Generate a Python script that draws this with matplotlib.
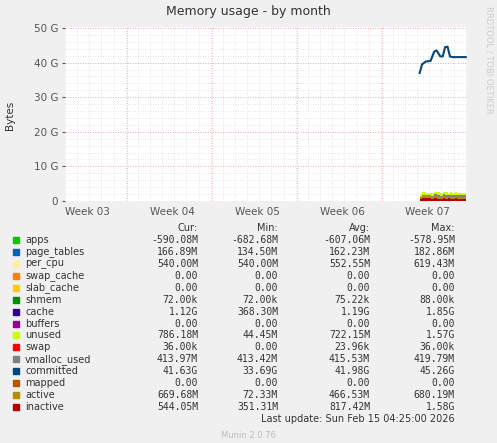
import matplotlib.pyplot as plt
import numpy as np

G = 1e9
names = ["apps", "page_tables", "per_cpu", "swap_cache", "slab_cache", "shmem", "cache",
         "buffers", "unused", "swap", "vmalloc_used", "committed", "mapped", "active", "inactive"]
colors = ["#00CC00", "#0066B3", "#FFEE99", "#FF8000", "#FFCC00", "#008F00", "#330099",
          "#990099", "#CCFF00", "#FF0000", "#808080", "#00487D", "#B35A00", "#B38F00", "#B30000"]
cur = ["-590.08M", "166.89M", "540.00M", "0.00", "0.00", "72.00k", "1.12G", "0.00",
       "786.18M", "36.00k", "413.97M", "41.63G", "0.00", "669.68M", "544.05M"]
mins = ["-682.68M", "134.50M", "540.00M", "0.00", "0.00", "72.00k", "368.30M", "0.00",
        "44.45M", "0.00", "413.42M", "33.69G", "0.00", "72.33M", "351.31M"]
avgs = ["-607.06M", "162.23M", "552.55M", "0.00", "0.00", "75.22k", "1.19G", "0.00",
        "722.15M", "23.96k", "415.53M", "41.98G", "0.00", "466.53M", "817.42M"]
maxs = ["-578.95M", "182.86M", "619.43M", "0.00", "0.00", "88.00k", "1.85G", "0.00",
        "1.57G", "36.00k", "419.79M", "45.26G", "0.00", "680.19M", "1.58G"]

# days since start of week 03
days = [29.2, 29.4, 29.7, 30.1, 30.4, 30.6, 30.9, 31.1, 31.3, 31.5, 31.7, 31.9, 32.1, 32.3, 33.0]
committed = [37.0, 39.5, 40.3, 40.5, 43.2, 43.5, 41.8, 41.8, 44.5, 44.6, 41.8, 41.6, 41.6, 41.6, 41.6]
inactive = [0.55, 0.9, 0.8, 0.6, 0.9, 0.7, 0.6, 0.9, 0.7, 0.8, 0.6, 0.7, 0.9, 0.6, 0.55]
active = [0.3, 0.5, 0.6, 0.5, 0.6, 0.6, 0.5, 0.6, 0.6, 0.5, 0.6, 0.6, 0.5, 0.6, 0.67]
vmalloc = [0.41] * 15
unused = [0.6, 0.9, 0.5, 0.8, 0.6, 0.9, 0.7, 0.6, 0.8, 0.7, 0.9, 0.6, 0.8, 0.7, 0.79]
week_labels = ["Week 03", "Week 04", "Week 05", "Week 06", "Week 07"]

fig = plt.figure(figsize=(4.97, 4.43), dpi=100, facecolor="#F0F0F0")
ax = fig.add_axes([65 / 497, 1 - 201 / 443, 402 / 497, 174 / 443])
ax.set_xlim(0, 33.1)
ax.set_ylim(0, 50.3)
for s in ax.spines.values():
    s.set_visible(False)

for d in np.arange(0, 34, 1):
    ax.axvline(d, color="#DDDDDD", lw=0.6, ls=(0, (1, 2)), zorder=0)
for d in np.arange(5.1, 34, 7):
    ax.axvline(d, color="#E8A0A0", lw=0.6, ls=(0, (1, 2)), zorder=0)
for v in np.arange(0, 51, 2):
    ax.axhline(v, color="#DDDDDD", lw=0.6, ls=(0, (1, 2)), zorder=0)
for v in np.arange(0, 51, 10):
    ax.axhline(v, color="#E8A0A0", lw=0.6, ls=(0, (1, 2)), zorder=0)

stack = [("inactive", inactive), ("active", active), ("vmalloc_used", vmalloc), ("unused", unused)]
base = np.zeros(len(days))
for n, vals in stack:
    top = base + np.array(vals)
    ax.fill_between(days, base, top, color=colors[names.index(n)], step="post", lw=0, zorder=2)
    base = top
ax.plot(days, committed, color="#00487D", lw=1.5, zorder=3)

ax.set_yticks([0, 10, 20, 30, 40, 50])
ax.set_yticklabels(["0", "10 G", "20 G", "30 G", "40 G", "50 G"])
ax.set_xticks([])
ax.tick_params(axis="y", length=2, labelsize=7.5, colors="#555555", pad=3)
for i, w in enumerate(week_labels):
    ax.text(i * 7, -1.6, w, ha="left", va="top", fontsize=7.5, color="#555555")
ax.annotate("", xy=(34.0, 0), xytext=(0, 0),
            arrowprops=dict(arrowstyle="-|>", color="#CCCCFF", lw=0.8))
ax.annotate("", xy=(0, 51.8), xytext=(0, 0),
            arrowprops=dict(arrowstyle="-|>", color="#CCCCFF", lw=0.8))

fig.text(0.5, 1 - 11 / 443, "Memory usage - by month", ha="center", va="center", fontsize=9, color="#333333")
fig.text(10 / 497, 1 - 115 / 443, "Bytes", rotation=90, ha="center", va="center", fontsize=7.5, color="#333333")
fig.text(489 / 497, 1 - 60 / 443, "RRDTOOL / TOBI OETIKER", rotation=270, ha="center", va="center",
         fontsize=6, color="#CCCCCC")

cols = [198, 278, 370, 455]
for x, h in zip(cols, ["Cur:", "Min:", "Avg:", "Max:"]):
    fig.text(x / 497, 1 - 228 / 443, h, ha="right", va="center", fontsize=7, color="#333333")
for i, n in enumerate(names):
    y = 1 - (240 + i * 11.93) / 443
    fig.patches.append(plt.Rectangle((13 / 497, y - 3 / 443), 6 / 497, 6 / 443,
                                     transform=fig.transFigure, color=colors[i]))
    fig.text(25 / 497, y, n, ha="left", va="center", fontsize=7, color="#333333")
    for x, v in zip(cols, [cur[i], mins[i], avgs[i], maxs[i]]):
        fig.text(x / 497, y, v, ha="right", va="center", fontsize=7, family="DejaVu Sans Mono", color="#333333")
fig.text(455 / 497, 1 - 419 / 443, "Last update: Sun Feb 15 04:25:00 2026", ha="right", va="center",
         fontsize=7, color="#333333")
fig.text(0.5, 1 - 435 / 443, "Munin 2.0.76", ha="center", va="center", fontsize=6, color="#BBBBBB")

fig.savefig("out.png", dpi=100, facecolor=fig.get_facecolor())
